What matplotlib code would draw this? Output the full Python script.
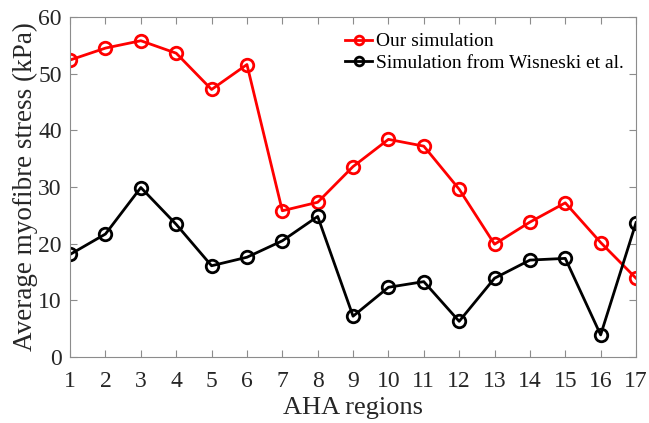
import matplotlib
matplotlib.use("Agg")
import matplotlib.pyplot as plt

regions = list(range(1, 18))
our_sim = [52.4, 54.5, 55.8, 53.6, 47.2, 51.6, 25.8, 27.3, 33.6, 38.4, 37.2, 29.6,
           19.9, 23.8, 27.2, 20.2, 13.9]
wisneski = [18.1, 21.7, 29.9, 23.4, 16.1, 17.6, 20.5, 24.8, 7.2, 12.3, 13.3, 6.3,
            13.9, 17.1, 17.4, 3.9, 23.7]
y_ticks = [0, 10, 20, 30, 40, 50, 60]

plt.rcParams['font.family'] = ['Liberation Serif', 'DejaVu Serif']

fig = plt.figure(figsize=(6.49, 4.23), dpi=100)
ax = fig.add_axes([0.108, 0.156, 0.872, 0.804])

ax.plot(regions, our_sim, color='red', lw=2, marker='o', ms=9, mfc='none',
        mew=2, label='Our simulation')
ax.plot(regions, wisneski, color='black', lw=2, marker='o', ms=9, mfc='none',
        mew=2, label='Simulation from Wisneski et al.')

ax.set_xlim(1, 17)
ax.set_ylim(0, 60)
ax.set_xticks(regions)
ax.set_yticks(y_ticks)

for s in ax.spines.values():
    s.set_color('#8c8c8c')
    s.set_linewidth(0.8)
ax.tick_params(direction='in', top=True, right=True, length=5, width=0.8,
               color='#8c8c8c', labelsize=17, labelcolor='#262626')
ax.tick_params(axis='x', pad=10)
ax.tick_params(axis='y', pad=6)

ax.set_xlabel('AHA regions', fontsize=19, color='#262626', labelpad=4)
ax.set_ylabel('Average myofibre stress (kPa)', fontsize=19.5, color='#262626',
              labelpad=0)

ax.legend(loc='upper left', bbox_to_anchor=(0.455, 1.005), frameon=False,
          fontsize=14, handlelength=1.4, handletextpad=0.2, labelspacing=0.2,
          markerscale=0.7)

fig.savefig('out.png', dpi=100)
